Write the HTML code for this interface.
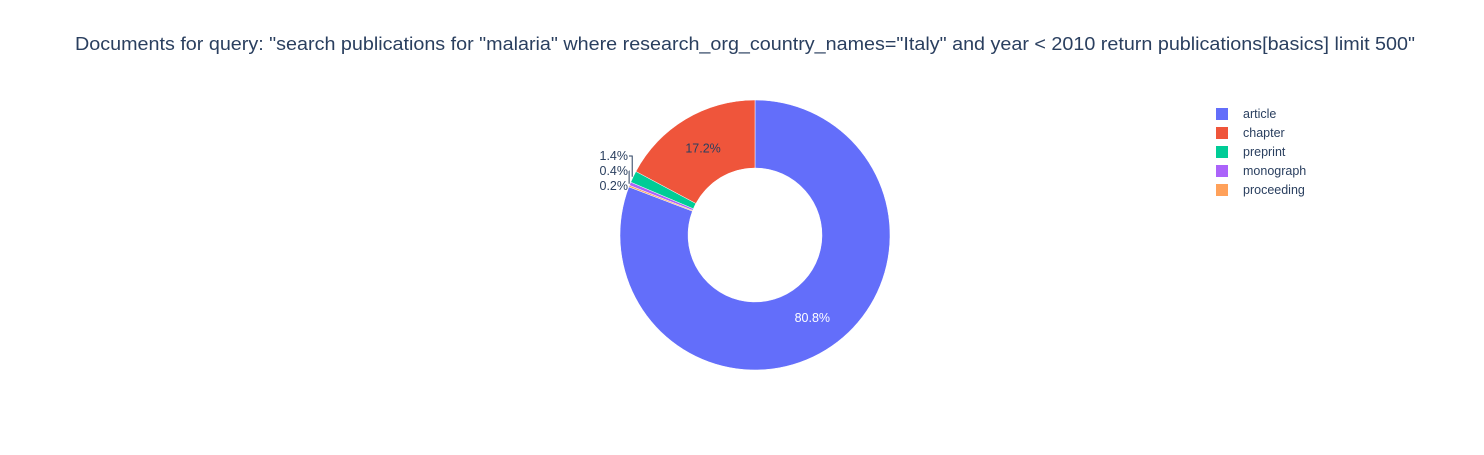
<!DOCTYPE html>
<html><head><meta charset="utf-8"><style>
body{margin:0;background:#fff;width:1484px;height:450px;overflow:hidden;font-family:"Liberation Sans",Arial,sans-serif}
</style></head><body>
<svg id="chart" width="1484" height="450" xmlns="http://www.w3.org/2000/svg">
<text x="745" y="50" text-anchor="middle" font-size="18" textLength="1340" lengthAdjust="spacingAndGlyphs" fill="#2a3f5f">Documents for query: "search publications for "malaria" where research_org_country_names="Italy" and year &lt; 2010 return publications[basics] limit 500"</text>
<g id="slices"></g><g id="labels"></g><g id="legend"></g>
</svg>
<script>
const categories=["article","chapter","preprint","monograph","proceeding"];
const values=[404,86,7,2,1];
const colors=["#636efa","#EF553B","#00cc96","#ab63fa","#FFA15A"];
// clockwise draw order from top
const drawOrder=[0,4,3,2,1];
const cx=755,cy=235,R=135,r=67;
const NS="http://www.w3.org/2000/svg";
const total=values.reduce((a,b)=>a+b,0);
function pt(a,rad){return [cx+rad*Math.sin(a),cy-rad*Math.cos(a)];}
const sl=document.getElementById('slices'),lb=document.getElementById('labels'),lg=document.getElementById('legend');
let a0=0;const mids={};
drawOrder.forEach(i=>{
  const a1=a0+values[i]/total*2*Math.PI;
  const [x0,y0]=pt(a0,R),[x1,y1]=pt(a1,R),[x2,y2]=pt(a1,r),[x3,y3]=pt(a0,r);
  const lf=(a1-a0)>Math.PI?1:0;
  const p=document.createElementNS(NS,'path');
  p.setAttribute('d',`M${x0},${y0}A${R},${R} 0 ${lf} 1 ${x1},${y1}L${x2},${y2}A${r},${r} 0 ${lf} 0 ${x3},${y3}Z`);
  p.setAttribute('fill',colors[i]);p.setAttribute('stroke','#fff');p.setAttribute('stroke-width','0.5');
  
  
  sl.appendChild(p);
  mids[i]=(a0+a1)/2;a0=a1;
});
function txt(x,y,s,fill,anchor,name){const t=document.createElementNS(NS,'text');t.setAttribute('x',x);t.setAttribute('y',y);t.setAttribute('font-size','12.5');t.setAttribute('fill',fill);t.setAttribute('text-anchor',anchor);t.textContent=s;


lb.appendChild(t);return t;}
const outY={2:156,3:171,4:186};
categories.forEach((c,i)=>{
  const pct=(values[i]/total*100).toFixed(1)+'%';
  if(values[i]/total>0.05){
    const [x,y]=pt(mids[i],(R+r)/2);
    txt(x,y+4,pct,i==0?'#fff':'#2a3f5f','middle','label-'+c);
  }else{
    const ly=outY[i];
    txt(628,ly+4,pct,'#2a3f5f','end','label-'+c);
    if(i!=4){const [sx,sy]=pt(mids[i],R);
      const l=document.createElementNS(NS,'path');
      l.setAttribute('d',`M629,${ly}L${sx-1},${ly}L${sx-1},${sy}`);
      l.setAttribute('stroke','#2a3f5f');l.setAttribute('fill','none');
      
      
      lb.appendChild(l);}
  }
  const g=document.createElementNS(NS,'g');
  
  
  const ry=114+i*19;
  const s=document.createElementNS(NS,'rect');s.setAttribute('x',1216);s.setAttribute('y',ry-6);s.setAttribute('width',12);s.setAttribute('height',12);s.setAttribute('fill',colors[i]);
  g.appendChild(s);
  const t=document.createElementNS(NS,'text');t.setAttribute('x',1243);t.setAttribute('y',ry+4);t.setAttribute('font-size','12.5');t.setAttribute('fill','#2a3f5f');t.textContent=c;
  g.appendChild(t);lg.appendChild(g);
});
</script>
</body></html>
